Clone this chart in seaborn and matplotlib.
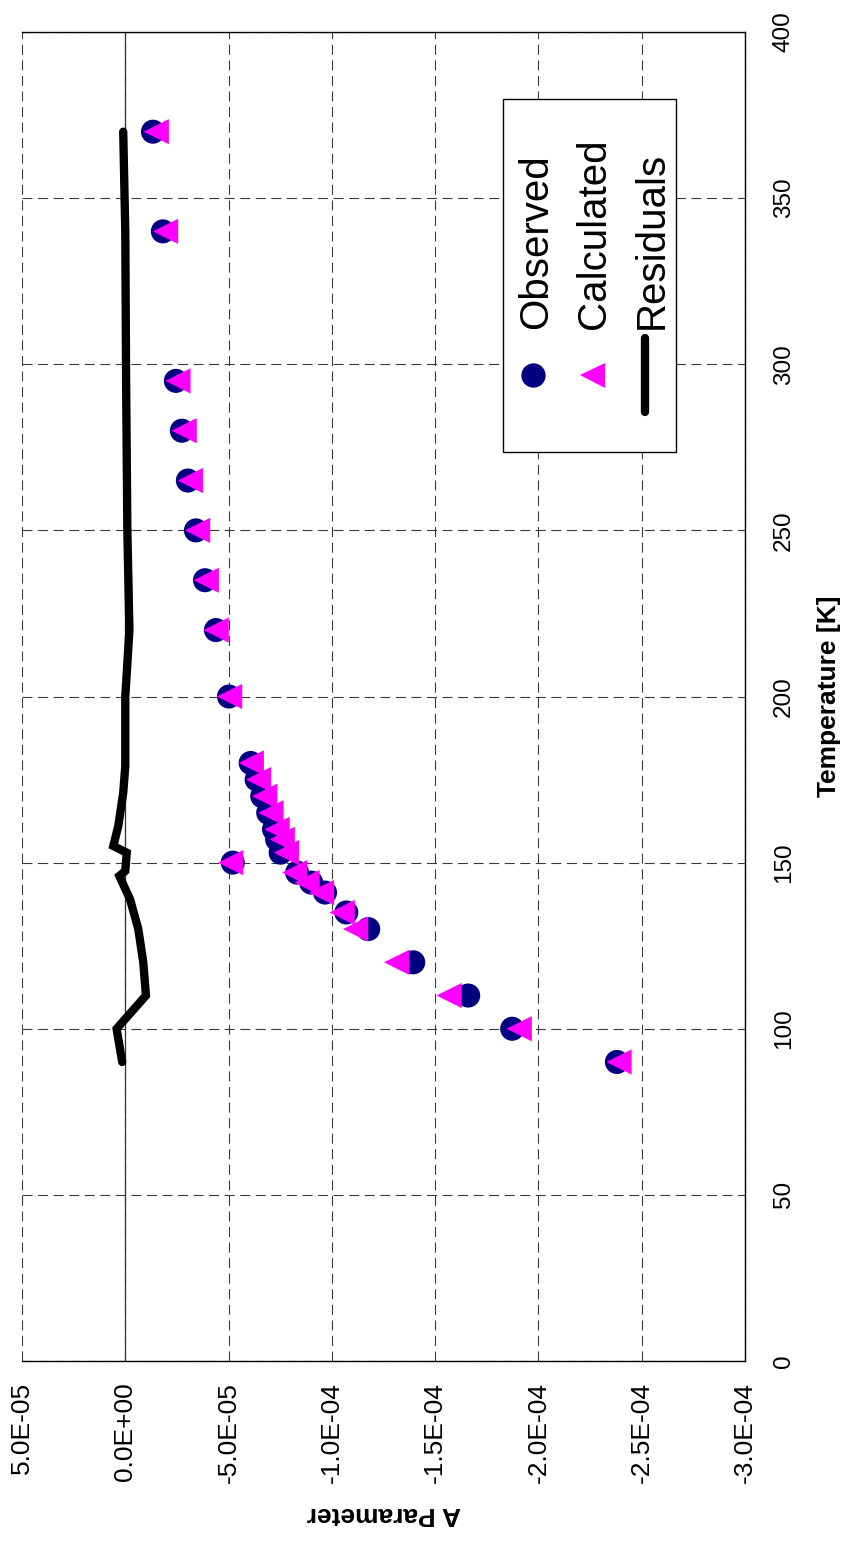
import matplotlib
matplotlib.use("Agg")
import matplotlib.pyplot as plt
import seaborn as sns
import pandas as pd
from matplotlib.patches import Rectangle
from matplotlib.lines import Line2D

# ---------------- data ----------------
temperature = [370, 340, 295, 280, 265, 250, 235, 220, 200, 180, 175, 170, 165,
               160, 157, 153, 150, 147, 144, 141, 135, 130, 120, 110, 100, 90]
a_observed = [-1.34e-5, -1.82e-5, -2.45e-5, -2.74e-5, -3.03e-5, -3.42e-5, -3.86e-5,
              -4.39e-5, -5.02e-5, -6.07e-5, -6.36e-5, -6.63e-5, -6.92e-5, -7.20e-5,
              -7.35e-5, -7.52e-5, -5.20e-5, -8.32e-5, -9.00e-5, -9.67e-5, -1.07e-4,
              -1.176e-4, -1.394e-4, -1.66e-4, -1.873e-4, -2.38e-4]
a_calculated = [-1.50e-5, -1.95e-5, -2.55e-5, -2.85e-5, -3.15e-5, -3.50e-5, -3.92e-5,
                -4.40e-5, -5.05e-5, -6.10e-5, -6.45e-5, -6.75e-5, -7.05e-5, -7.35e-5,
                -7.60e-5, -7.80e-5, -5.10e-5, -8.20e-5, -8.80e-5, -9.50e-5, -1.05e-4,
                -1.115e-4, -1.314e-4, -1.568e-4, -1.907e-4, -2.39e-4]
res_temperature = [90, 100, 110, 120, 130, 139, 146, 147.5, 153, 155, 161, 171, 179,
                   200, 220, 235, 250, 265, 280, 295, 340, 370]
residuals = [1.5e-6, 4.2e-6, -1.0e-5, -8.7e-6, -6.3e-6, -2.3e-6, 2.9e-6, 0.0, -7e-7,
             5.8e-6, 3.4e-6, 1.0e-6, 0.0, 0.0, -2.0e-6, -1.5e-6, -1.0e-6, -8e-7,
             -6e-7, -4e-7, 0.0, 1.0e-6]

a_ticks = [5e-5, 0.0, -5e-5, -1e-4, -1.5e-4, -2e-4, -2.5e-4, -3e-4]
a_ticklabels = ["5.0E-05", "0.0E+00", "-5.0E-05", "-1.0E-04", "-1.5E-04",
                "-2.0E-04", "-2.5E-04", "-3.0E-04"]
t_ticks = [0, 50, 100, 150, 200, 250, 300, 350, 400]
legend_labels = ["Observed", "Calculated", "Residuals"]

obs_df = pd.DataFrame({"A": a_observed, "T": temperature})
calc_df = pd.DataFrame({"A": a_calculated, "T": temperature})
res_df = pd.DataFrame({"A": residuals, "T": res_temperature})

# ---------------- style ----------------
sns.set_theme(style="white")
plt.rcParams["font.family"] = ["Liberation Sans", "DejaVu Sans"]
plt.rcParams["text.color"] = "black"
plt.rcParams["axes.labelcolor"] = "black"

NAVY = "#000080"
MAGENTA = "#FF00FF"

fig = plt.figure(figsize=(8.49, 15.43), dpi=100)
ax = fig.add_axes([0.02591, 0.11795, 0.8516, 0.8613])

ax.axvline(0.0, color="#333333", lw=0.9, zorder=1)

sns.scatterplot(data=obs_df, x="A", y="T", marker="o", s=300, color=NAVY,
                edgecolor="none", linewidth=0, ax=ax, zorder=3)
sns.scatterplot(data=calc_df, x="A", y="T", marker="<", s=330, color=MAGENTA,
                edgecolor="none", linewidth=0, ax=ax, zorder=4)
sns.lineplot(data=res_df, x="A", y="T", sort=False, estimator=None, color="black",
             lw=6, solid_capstyle="round", solid_joinstyle="miter", ax=ax, zorder=5)

ax.set_xlim(5e-5, -3e-4)
ax.set_ylim(0, 400)
ax.set_xticks(a_ticks)
ax.set_xticklabels(a_ticklabels, rotation=90, fontsize=19)
ax.set_yticks(t_ticks)
ax.yaxis.tick_right()
ax.yaxis.set_label_position("right")
for lab in ax.get_yticklabels():
    lab.set_rotation(90)
    lab.set_fontsize(17.5)
    lab.set_va("center")
ax.tick_params(axis="x", length=0, pad=15, colors="black")
ax.tick_params(axis="y", length=0, pad=20, colors="black")

ax.grid(True, color="#3a3a3a", lw=0.8, linestyle=(0, (9, 5)))
ax.set_axisbelow(True)

for side in ["top", "right", "bottom"]:
    ax.spines[side].set_visible(True)
    ax.spines[side].set_color("black")
    ax.spines[side].set_linewidth(1.0)
ax.spines["left"].set_visible(False)

ax.set_xlabel("A Parameter", fontsize=19, fontweight="bold", rotation=180,
              labelpad=14, color="black")
ax.set_ylabel("Temperature [K]", fontsize=19, fontweight="bold", labelpad=16,
              color="black")

# ---------------- rotated legend ----------------
ax.add_patch(Rectangle((0.665, 0.684), 0.2396, 0.2654, transform=ax.transAxes,
                       facecolor="white", edgecolor="black", lw=1.0, zorder=6,
                       clip_on=False))
ax.add_line(Line2D([0.7072], [0.7419], transform=ax.transAxes, marker="o",
                   markersize=17.5, color=NAVY, markeredgewidth=0, lw=0, zorder=7))
ax.add_line(Line2D([0.7879], [0.7419], transform=ax.transAxes, marker="<",
                   markersize=18, color=MAGENTA, markeredgewidth=0, lw=0, zorder=7))
ax.add_line(Line2D([0.8617, 0.8617], [0.7143, 0.7698], transform=ax.transAxes,
                   color="black", lw=6, solid_capstyle="round", zorder=7))
for xb, txt in zip([0.7257, 0.8064, 0.8862], legend_labels):
    ax.text(xb, 0.7765, txt, transform=ax.transAxes, rotation=90,
            rotation_mode="anchor", ha="left", va="baseline", fontsize=29,
            color="black", zorder=8)

fig.savefig("out.png", dpi=100)
